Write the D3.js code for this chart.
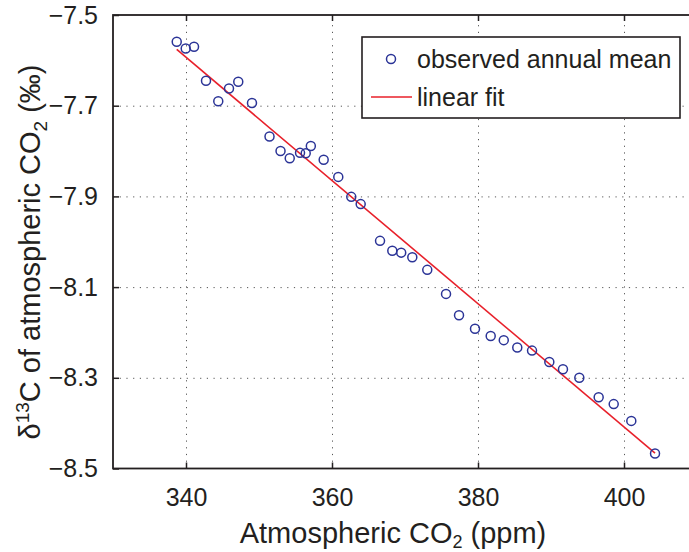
<!DOCTYPE html>
<html>
<head>
<meta charset="utf-8">
<script src="https://cdn.jsdelivr.net/npm/d3@7"></script>
<style>
  body { margin: 0; background: #fff; }
  text { font-family: "Liberation Sans", Arial, Helvetica, sans-serif; fill: #231f20; }
  .grid line { stroke: #444; stroke-width: 0.9; stroke-dasharray: 1.2,5.5; }
  .grid path { display: none; }
</style>
</head>
<body>
<div id="plot"></div>
<script>
// Observed annual mean
var co2 = [338.73, 339.96, 341.10, 342.74, 344.42, 345.89, 347.16, 349.04, 351.44, 352.95,
           354.21, 355.62, 356.40, 357.10, 358.86, 360.86, 362.64, 363.93, 366.58, 368.26,
           369.48, 371.00, 373.05, 375.62, 377.40, 379.59, 381.74, 383.53, 385.38, 387.40,
           389.77, 391.64, 393.88, 396.53, 398.59, 401.00, 404.25];
var d13c = [-7.559, -7.574, -7.570, -7.645, -7.690, -7.662, -7.647, -7.694, -7.768, -7.800,
            -7.816, -7.804, -7.805, -7.789, -7.819, -7.857, -7.901, -7.917, -7.998, -8.020,
            -8.024, -8.034, -8.062, -8.115, -8.162, -8.192, -8.208, -8.217, -8.233, -8.240,
            -8.265, -8.281, -8.300, -8.343, -8.358, -8.395, -8.467];

// linear fit end points
var fitX = [338.73, 404.25];
var fitY = [-7.576, -8.466];

var xTicks = [340, 360, 380, 400];
var yTicks = [-8.5, -8.3, -8.1, -7.9, -7.7, -7.5];
var legendLabels = ["observed annual mean", "linear fit"];

var width = 689, height = 552;
const margin = {top: 15, left: 113};
var plotW = 584, plotH = 453.5;

var svg = d3.select("#plot")
     .append("svg")
     .attr("width", width)
     .attr("height", height);

var g = svg.append("g")
     .attr("transform", "translate(" + margin.left + "," + margin.top + ")");

var x = d3.scaleLinear().domain([330, 410]).range([0, plotW]);
var y = d3.scaleLinear().domain([-8.5, -7.5]).range([plotH, 0]);

// dotted grid
g.append("g")
     .attr("class", "grid")
     .attr("transform", "translate(0," + plotH + ")")
     .call(d3.axisBottom(x).tickValues(xTicks).tickSize(-plotH).tickFormat(""));
g.append("g")
     .attr("class", "grid")
     .call(d3.axisLeft(y).tickValues(yTicks.slice(1, -1)).tickSize(-plotW).tickFormat(""));

// fit line
var fit = fitX.map(function(v, i) { return [v, fitY[i]]; });
g.append("path")
     .datum(fit)
     .attr("fill", "none")
     .attr("stroke", "#e8202a")
     .attr("stroke-width", 1.6)
     .attr("d", d3.line().x(function(d) { return x(d[0]); }).y(function(d) { return y(d[1]); }));

// points
g.selectAll(".pt")
     .data(co2)
     .enter()
     .append("circle")
     .attr("class", "pt")
     .attr("cx", function(d) { return x(d); })
     .attr("cy", function(d, i) { return y(d13c[i]); })
     .attr("r", 4.5)
     .attr("fill", "none")
     .attr("stroke", "#2b3497")
     .attr("stroke-width", 1.5);

// axes
function styleAxis(sel, labels) {
     sel.select(".domain").remove();
     sel.selectAll(".tick line").attr("stroke", "#231f20").attr("stroke-width", 1.5);
     sel.selectAll("text").style("font-size", "25px").attr("fill", "#231f20");
     if (!labels) sel.selectAll("text").remove();
}

var xAxis = g.append("g")
     .attr("transform", "translate(0," + plotH + ")")
     .call(d3.axisBottom(x).tickValues(xTicks).tickSize(-6).tickPadding(20).tickFormat(d3.format("d")));
styleAxis(xAxis, true);

var xTop = g.append("g")
     .call(d3.axisTop(x).tickValues(xTicks).tickSize(-6));
styleAxis(xTop, false);

var yAxis = g.append("g")
     .call(d3.axisLeft(y).tickValues(yTicks).tickSize(-6).tickPadding(15).tickFormat(d3.format(".1f")));
styleAxis(yAxis, true);

var yRight = g.append("g")
     .attr("transform", "translate(" + plotW + ",0)")
     .call(d3.axisRight(y).tickValues(yTicks).tickSize(-6));
styleAxis(yRight, false);

// frame
g.append("rect")
     .attr("x", 0).attr("y", 0)
     .attr("width", plotW).attr("height", plotH)
     .attr("fill", "none")
     .attr("stroke", "#231f20")
     .attr("stroke-width", 1.8);

// axis titles
var xt = svg.append("text")
     .attr("x", 393)
     .attr("y", 543)
     .attr("text-anchor", "middle")
     .style("font-size", "29px");
xt.append("tspan").text("Atmospheric CO");
xt.append("tspan").attr("dy", 5).style("font-size", "18px").text("2");
xt.append("tspan").attr("dy", -5).text(" (ppm)");

var yt = svg.append("text")
     .attr("transform", "translate(40,252) rotate(-90)")
     .attr("text-anchor", "middle")
     .style("font-size", "29px");
yt.append("tspan").text("\u03B4");
yt.append("tspan").attr("dy", -11).style("font-size", "19px").text("13");
yt.append("tspan").attr("dy", 11).text("C of atmospheric CO");
yt.append("tspan").attr("dy", 7).style("font-size", "19px").text("2");
yt.append("tspan").attr("dy", -7).text(" (\u2030)");

// legend
var leg = svg.append("g");
leg.append("rect")
     .attr("x", 362).attr("y", 37)
     .attr("width", 318).attr("height", 81)
     .attr("fill", "#fff")
     .attr("stroke", "#231f20")
     .attr("stroke-width", 1.6);
leg.append("circle")
     .attr("cx", 391).attr("cy", 59)
     .attr("r", 4.5)
     .attr("fill", "none")
     .attr("stroke", "#2b3497")
     .attr("stroke-width", 1.5);
leg.append("line")
     .attr("x1", 371).attr("x2", 412)
     .attr("y1", 97).attr("y2", 97)
     .attr("stroke", "#e8202a")
     .attr("stroke-width", 1.6);
leg.selectAll(".lt")
     .data(legendLabels)
     .enter()
     .append("text")
     .attr("x", 417)
     .attr("y", function(d, i) { return 68 + i * 38; })
     .style("font-size", "25px")
     .text(function(d) { return d; });
</script>
</body>
</html>
